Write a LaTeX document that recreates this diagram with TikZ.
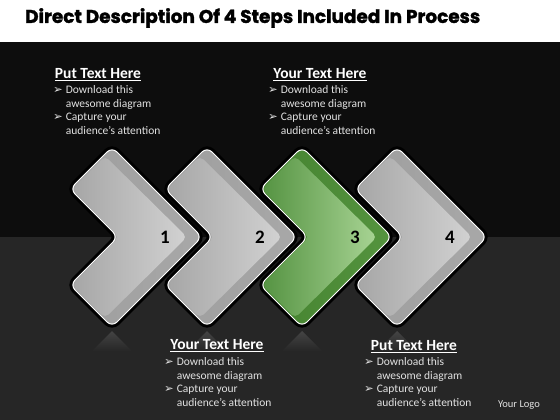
\documentclass[tikz,border=0pt]{standalone}
\usepackage{fontspec}
\setmainfont{Carlito}
\newfontfamily\titlefont{Poppins}[UprightFont={* Bold}, FakeBold=1.6]
\newfontfamily\symfont{DejaVu Sans}
\definecolor{bandtop}{HTML}{0D0D0D}
\definecolor{bandlow}{HTML}{262626}
\definecolor{gOa}{HTML}{9E9E9E}
\definecolor{gOb}{HTML}{CACACA}
\definecolor{gOc}{HTML}{A8A8A8}
\definecolor{gIa}{HTML}{A6A6A6}
\definecolor{gIb}{HTML}{DADADA}
\definecolor{gIc}{HTML}{D2D2D2}
\definecolor{vOa}{HTML}{44822F}
\definecolor{vOb}{HTML}{95C882}
\definecolor{vOc}{HTML}{55943F}
\definecolor{vIa}{HTML}{559342}
\definecolor{vIb}{HTML}{B2DBA0}
\definecolor{vIc}{HTML}{A8D494}
\definecolor{bodytext}{HTML}{E2E2E2}
\newcommand\chevout[1]{(#1-90,147) -- (#1,237) -- (#1-90,327) -- (#1-132,285) -- (#1-84,237) -- (#1-132,189) -- cycle}
\newcommand\chevin[1]{(#1-97,156) -- (#1-15,237) -- (#1-97,318) -- (#1-130,285) -- (#1-83,237) -- (#1-130,189) -- cycle}
\newcommand\chevron[4]{%
  \draw[black, line width=7pt, rounded corners=7pt, line join=round] \chevout{#1};
  \shade[rounded corners=7pt, left color=#2Oa, middle color=#2Ob, right color=#2Oc] \chevout{#1};
  \shade[rounded corners=5pt, left color=#2Ia, middle color=#2Ib, right color=#2Ic] \chevin{#1};
  \draw[white, line width=1pt, rounded corners=7pt] \chevout{#1};
  \node[num] (#3) at (#1-37,237) {#4};
}
\newcommand\reflect[1]{%
  \shade[top color=white!14!bandlow, bottom color=bandlow] (#1-90,331) -- (#1-70,351) -- (#1-110,351) -- cycle;
}
\newcommand\bulletlist{%
  \begin{tabular}{@{}l@{\hspace{3pt}}l@{}}
  {\symfont\fontsize{11.5}{13.6}\selectfont ➢} & Download this\\
   & awesome diagram\\
  {\symfont\fontsize{11.5}{13.6}\selectfont ➢} & Capture your\\
   & audience’s attention
  \end{tabular}}
\begin{document}
\begin{tikzpicture}[x=1pt,y=-1pt,
  num/.style={font=\fontsize{19}{19}\selectfont\bfseries, text=black, inner sep=0pt},
  head/.style={font=\fontsize{15.5}{15.5}\selectfont\bfseries, text=white, inner sep=0pt},
  body/.style={font=\fontsize{11.5}{13.6}\selectfont, text=bodytext, inner sep=0pt, anchor=north west},
  logo/.style={font=\fontsize{10.5}{11}\selectfont, text=bodytext, inner sep=0pt}]
\useasboundingbox (0,0) rectangle (560,420);
\fill[white] (0,0) rectangle (560,42);
\fill[bandtop] (0,42) rectangle (560,237);
\fill[bandlow] (0,237) rectangle (560,420);
\node[inner sep=0pt, anchor=west] (title) at (25,18) {\resizebox{455pt}{!}{\titlefont\fontsize{20}{20}\selectfont Direct Description Of 4 Steps Included In Process}};
\foreach \x in {202,297,392,487} {\reflect{\x}}
\chevron{202}{g}{n1}{1}
\chevron{297}{g}{n2}{2}
\chevron{392}{v}{n3}{3}
\chevron{487}{g}{n4}{4}
\node[head] (h1) at (98,75) {\underline{Put Text Here}};
\node[body] (b1) at (53,84) {\bulletlist};
\node[head] (h2) at (320,75) {\underline{Your Text Here}};
\node[body] (b2) at (268,84) {\bulletlist};
\node[head] (h3) at (217,346) {\underline{Your Text Here}};
\node[body] (b3) at (164,356) {\bulletlist};
\node[head] (h4) at (414,347) {\underline{Put Text Here}};
\node[body] (b4) at (364,356) {\bulletlist};
\node[logo] (logo) at (519,405) {Your Logo};
\end{tikzpicture}
\end{document}
